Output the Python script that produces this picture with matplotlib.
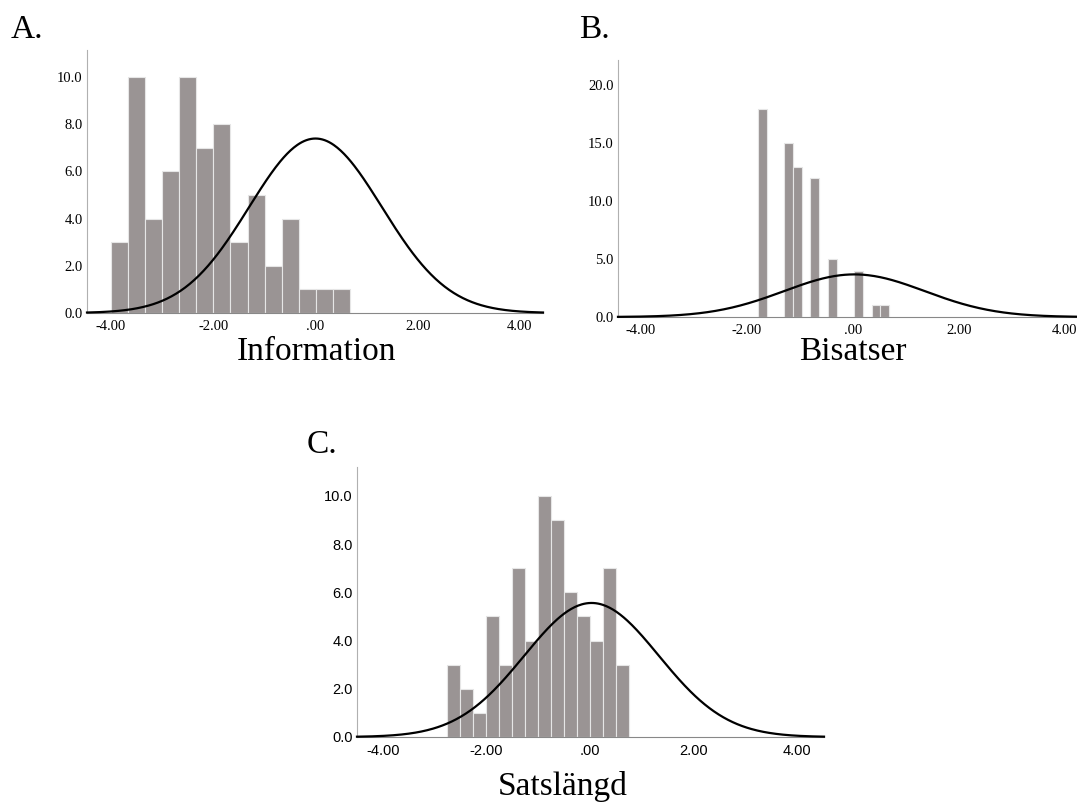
import numpy as np
import matplotlib
matplotlib.use('Agg')
import matplotlib.pyplot as plt

# histogram data
info_start = -4.01
info_width = 0.335
info_counts = [3, 10, 4, 6, 10, 7, 8, 3, 5, 2, 4, 1, 1, 1]

bis_start = -1.79
bis_width = 0.165
bis_counts = [18, 0, 0, 15, 13, 0, 12, 0, 5, 0, 0, 4, 0, 1, 1]

sats_start = -2.76
sats_width = 0.251
sats_counts = [3, 2, 1, 5, 3, 7, 4, 10, 9, 6, 5, 4, 7, 3]

# normal curves: mean, sd, peak height
info_curve = (0.0, 1.30, 7.39)
bis_curve = (0.03, 1.33, 3.68)
sats_curve = (0.03, 1.30, 5.56)

x_ticks = [-4, -2, 0, 2, 4]
x_ticklabels = ['-4.00', '-2.00', '.00', '2.00', '4.00']
info_yticks = [0, 2, 4, 6, 8, 10]
bis_yticks = [0, 5, 10, 15, 20]
sats_yticks = [0, 2, 4, 6, 8, 10]

BAR = '#9a9494'
W, H = 1077, 806


def box(left, right, top, bottom):
    return [left / W, 1 - bottom / H, (right - left) / W, (bottom - top) / H]


def panel(ax, start, width, counts, curve, yticks, xlim, ylim, tickfont):
    counts = np.array(counts)
    edges = start + width * np.arange(len(counts))
    keep = counts > 0
    ax.bar(edges[keep], counts[keep], width=width, align='edge',
           color=BAR, edgecolor='#e6e6e6', linewidth=0.8, zorder=2)
    mu, sd, peak = curve
    xs = np.linspace(xlim[0], xlim[1], 400)
    ax.plot(xs, peak * np.exp(-0.5 * ((xs - mu) / sd) ** 2), color='black',
            linewidth=1.6, zorder=3, clip_on=False)
    ax.set_xlim(*xlim)
    ax.set_ylim(*ylim)
    ax.set_xticks(x_ticks)
    ax.set_xticklabels(x_ticklabels)
    ax.set_yticks(yticks)
    ax.set_yticklabels(['%.1f' % v for v in yticks])
    for lab in ax.get_xticklabels() + ax.get_yticklabels():
        lab.set_fontfamily(tickfont)
        lab.set_fontsize(10.5)
    ax.tick_params(axis='x', length=0, pad=5)
    ax.tick_params(axis='y', length=0, pad=3)
    for s in ['top', 'right']:
        ax.spines[s].set_visible(False)
    ax.spines['left'].set_color('#b0b0b0')
    ax.spines['bottom'].set_color('#888888')
    ax.spines['left'].set_linewidth(0.8)
    ax.spines['bottom'].set_linewidth(0.8)


fig = plt.figure(figsize=(W / 100, H / 100), dpi=100)

axA = fig.add_axes(box(87, 543, 50, 313))
panel(axA, info_start, info_width, info_counts, info_curve, info_yticks,
      (-4.47, 4.45), (0, 11.14), 'Liberation Serif')

axB = fig.add_axes(box(618, 1087, 60, 317))
panel(axB, bis_start, bis_width, bis_counts, bis_curve, bis_yticks,
      (-4.43, 4.42), (0, 22.2), 'Liberation Serif')

axC = fig.add_axes(box(357, 824, 467, 737))
panel(axC, sats_start, sats_width, sats_counts, sats_curve, sats_yticks,
      (-4.50, 4.52), (0, 11.2), 'Liberation Sans')

serif = dict(family='Liberation Serif', fontsize=24, color='black')
fig.text(11 / W, 1 - 30 / H, 'A.', ha='left', va='center', **serif)
fig.text(579 / W, 1 - 30 / H, 'B.', ha='left', va='center', **serif)
fig.text(307 / W, 1 - 445 / H, 'C.', ha='left', va='center', **serif)
fig.text(316 / W, 1 - 352 / H, 'Information', ha='center', va='center', **serif)
fig.text(853 / W, 1 - 352 / H, 'Bisatser', ha='center', va='center', **serif)
fig.text(563 / W, 1 - 786 / H, 'Satslängd', ha='center', va='center', **serif)

fig.savefig('out.png', dpi=100)
